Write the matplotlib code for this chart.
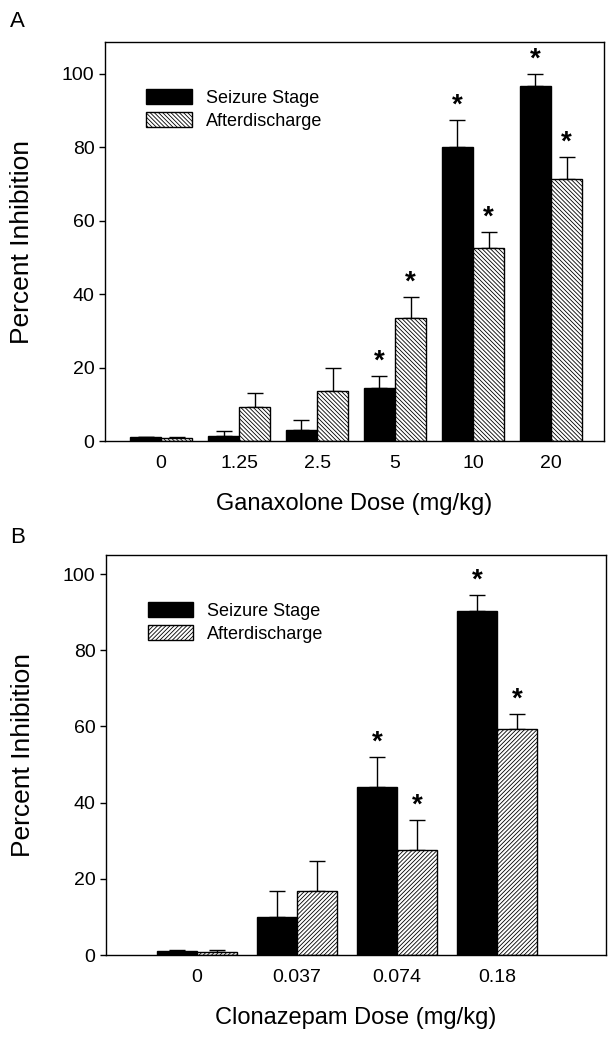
import numpy as np
import matplotlib
matplotlib.use("Agg")
import matplotlib.pyplot as plt

plt.rcParams['font.family'] = ['Liberation Sans', 'DejaVu Sans']
plt.rcParams['hatch.linewidth'] = 0.6

# Panel A - ganaxolone
ganax_doses = ['0', '1.25', '2.5', '5', '10', '20']
ganax_seizure = [1.0, 1.45, 2.9, 14.3, 80.0, 96.5]
ganax_seizure_err = [0.2, 1.25, 2.7, 3.5, 7.3, 3.4]
ganax_ad = [0.9, 9.2, 13.7, 33.5, 52.6, 71.4]
ganax_ad_err = [0.2, 3.9, 6.3, 5.8, 4.4, 5.8]
ganax_seizure_sig = [False, False, False, True, True, True]
ganax_ad_sig = [False, False, False, True, True, True]

# Panel B - clonazepam
clon_doses = ['0', '0.037', '0.074', '0.18']
clon_seizure = [1.05, 10.1, 44.0, 90.2]
clon_seizure_err = [0.3, 6.6, 7.9, 4.4]
clon_ad = [0.9, 16.8, 27.6, 59.3]
clon_ad_err = [0.3, 8.0, 7.8, 3.9]
clon_seizure_sig = [False, False, True, True]
clon_ad_sig = [False, False, True, True]

series_names = ['Seizure Stage', 'Afterdischarge']


def draw_panel(ax, doses, s_val, s_err, a_val, a_err, s_sig, a_sig, hatch, xlabel, xlim, ylim):
    x = np.arange(len(doses))
    w = 0.4
    ax.bar(x - w/2, s_val, w, color='black', edgecolor='black', linewidth=1.0,
           label=series_names[0], zorder=2)
    ax.bar(x + w/2, a_val, w, color='white', edgecolor='black', linewidth=1.0,
           hatch=hatch, label=series_names[1], zorder=2)
    ax.errorbar(x - w/2, s_val, yerr=[np.zeros(len(x)), s_err], fmt='none',
                ecolor='black', elinewidth=1.0, capsize=5.8, capthick=1.0, zorder=1)
    ax.errorbar(x + w/2, a_val, yerr=[np.zeros(len(x)), a_err], fmt='none',
                ecolor='black', elinewidth=1.0, capsize=5.8, capthick=1.0, zorder=1)
    for i in range(len(x)):
        if s_sig[i]:
            ax.annotate('*', (x[i] - w/2, s_val[i] + s_err[i]), xytext=(0, 1),
                        textcoords='offset points', ha='center', va='bottom',
                        fontsize=20, fontweight='bold')
        if a_sig[i]:
            ax.annotate('*', (x[i] + w/2, a_val[i] + a_err[i]), xytext=(0, 1),
                        textcoords='offset points', ha='center', va='bottom',
                        fontsize=20, fontweight='bold')
    ax.set_xlim(*xlim)
    ax.set_ylim(*ylim)
    ax.set_xticks(x)
    ax.set_xticklabels(doses)
    ax.set_yticks([0, 20, 40, 60, 80, 100])
    ax.tick_params(axis='x', length=0, pad=10, labelsize=14)
    ax.tick_params(axis='y', length=4, width=1.0, direction='out', labelsize=14)
    for sp in ax.spines.values():
        sp.set_linewidth(1.0)
    ax.set_xlabel(xlabel, fontsize=17, labelpad=15)
    ax.set_ylabel('Percent Inhibition', fontsize=19, labelpad=20)
    ax.legend(loc='upper left', bbox_to_anchor=(0.083, 0.882), frameon=False,
              fontsize=13, handlelength=2.5, handleheight=0.9, handletextpad=0.8,
              labelspacing=0.3, borderpad=0, borderaxespad=0)


fig = plt.figure(figsize=(6.16, 10.4), dpi=100)

ax1 = fig.add_axes([105/616, 1 - 441/1040, 499/616, 399/1040])
draw_panel(ax1, ganax_doses, ganax_seizure, ganax_seizure_err, ganax_ad, ganax_ad_err,
           ganax_seizure_sig, ganax_ad_sig, '\\' * 8, 'Ganaxolone Dose (mg/kg)',
           (-0.72, 5.68), (0, 108.6))

ax2 = fig.add_axes([106/616, 1 - 955/1040, 500/616, 400/1040])
draw_panel(ax2, clon_doses, clon_seizure, clon_seizure_err, clon_ad, clon_ad_err,
           clon_seizure_sig, clon_ad_sig, '/' * 8, 'Clonazepam Dose (mg/kg)',
           (-0.907, 4.09), (0, 105.0))

fig.text(10/616, 1 - 27/1040, 'A', fontsize=16)
fig.text(10/616, 1 - 543/1040, 'B', fontsize=16)

fig.savefig('out.png', dpi=100)
